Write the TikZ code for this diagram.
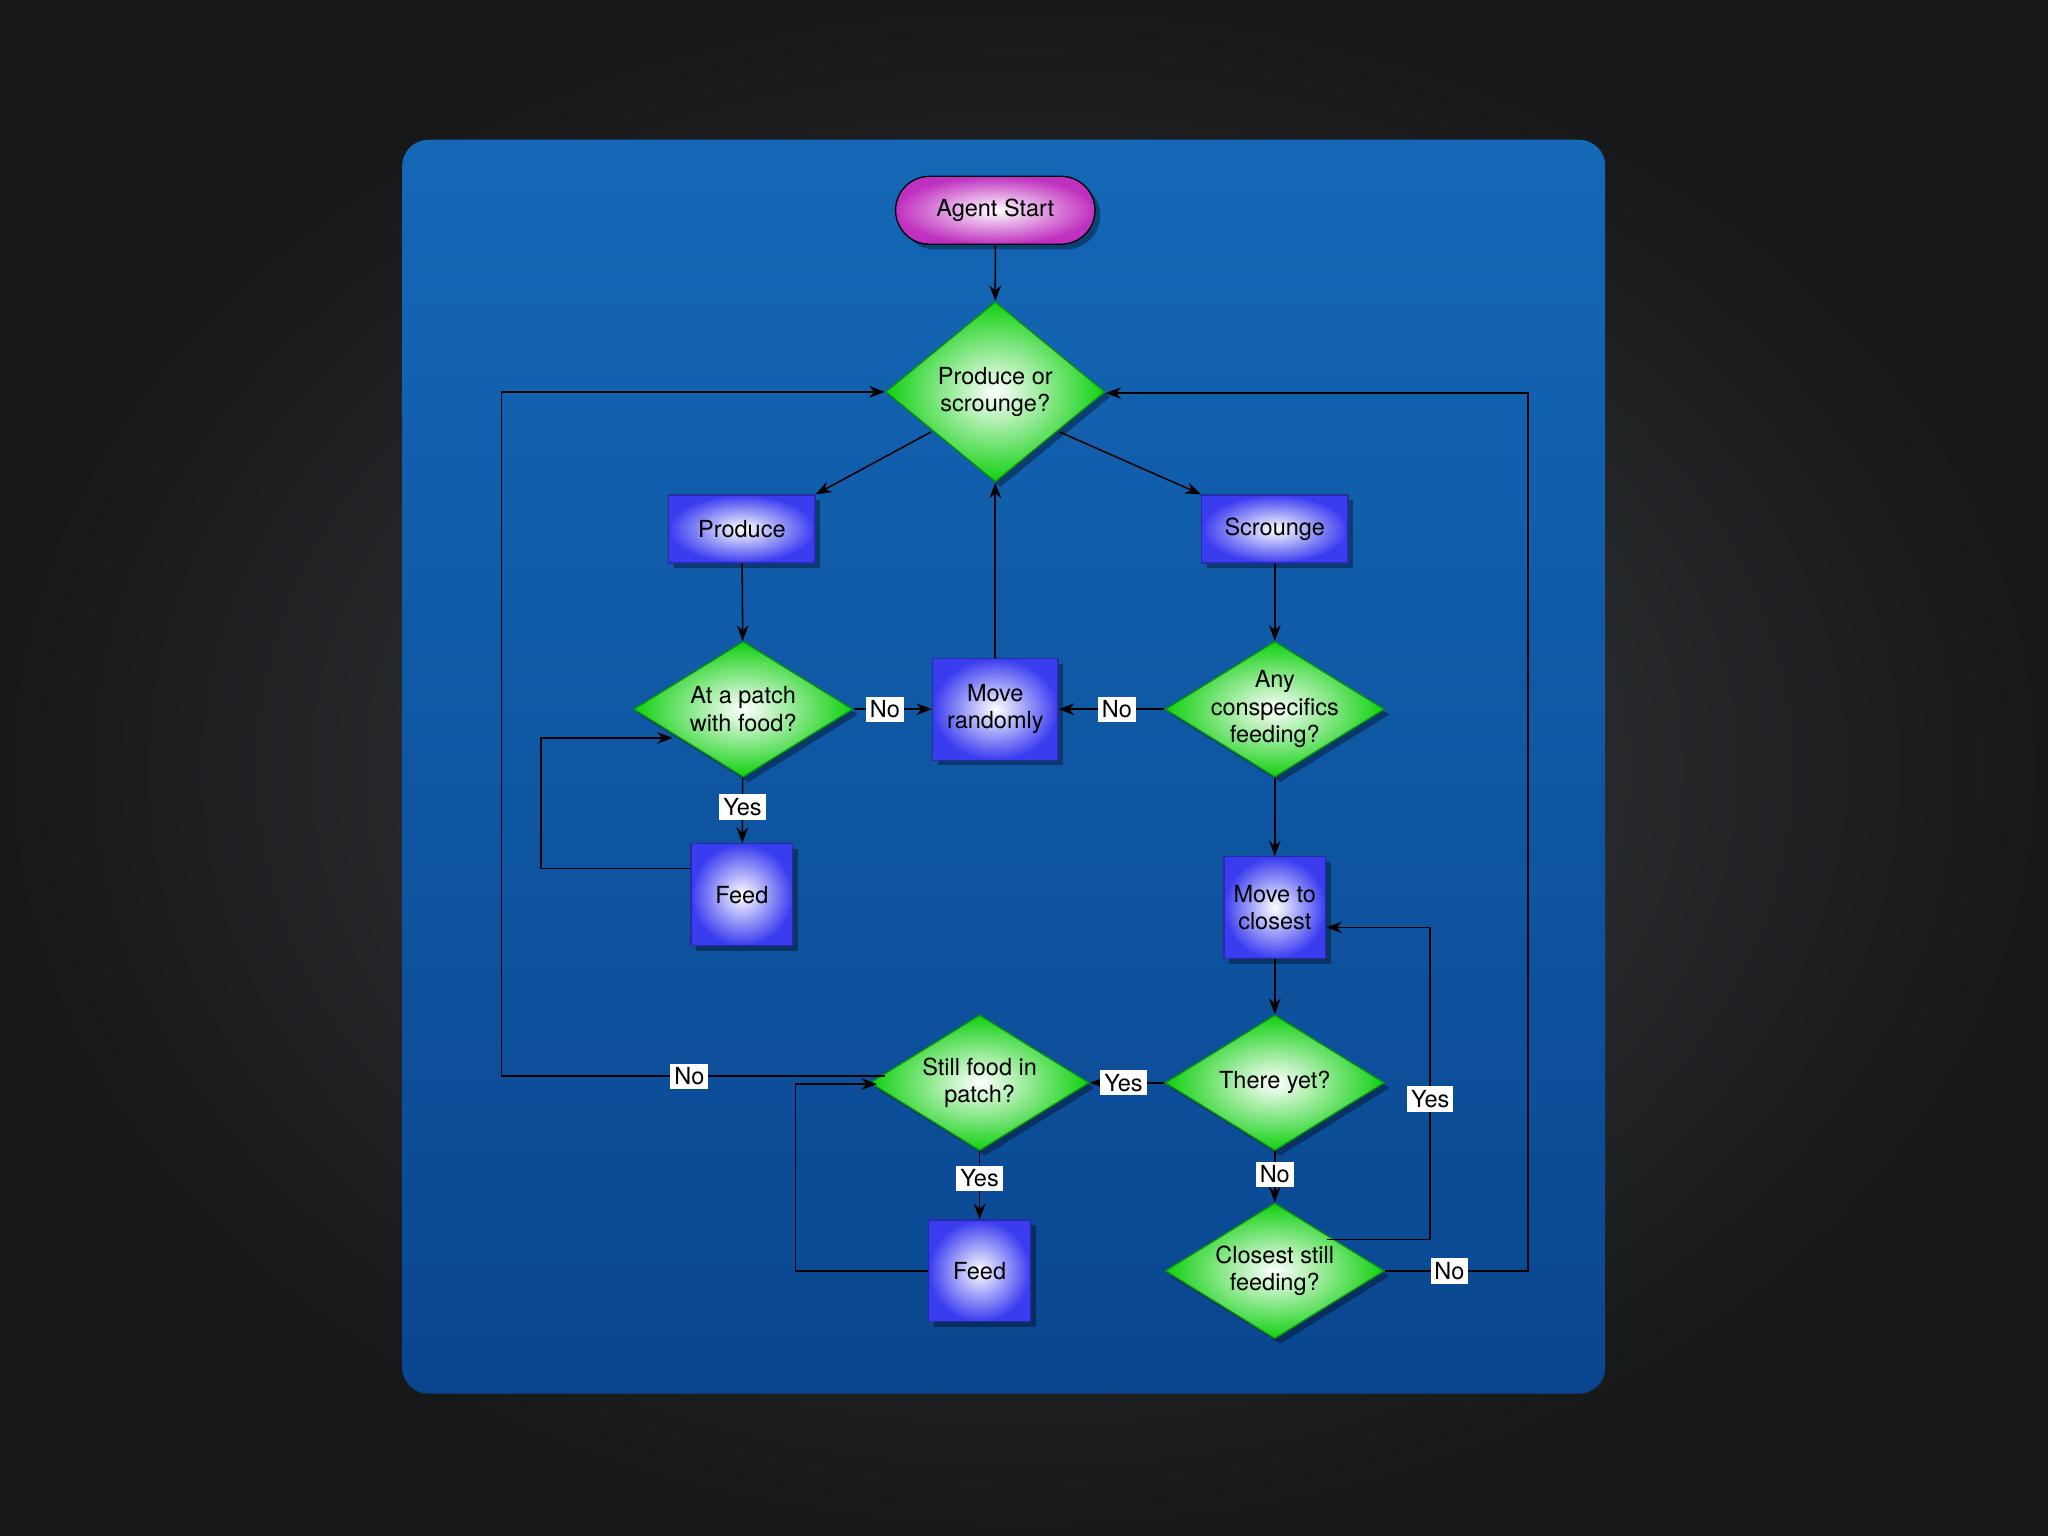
\documentclass[tikz,border=0pt]{standalone}
\usepackage{fontspec}
\setmainfont{TeX Gyre Heros}
\usetikzlibrary{shapes.geometric,shapes.misc,shadows,arrows.meta}
\definecolor{bgdark}{HTML}{16181A}
\definecolor{bglight}{HTML}{3C3F42}
\definecolor{paneltop}{HTML}{1468B6}
\definecolor{panelbot}{HTML}{0A4690}
\definecolor{boxblue}{HTML}{3A3CF0}
\definecolor{diagreen}{HTML}{10D010}
\definecolor{pillpurple}{HTML}{C030C0}
\tikzset{
  base/.style={draw, line width=0.5pt, drop shadow={black, opacity=0.35,shadow xshift=2pt,shadow yshift=-2pt}},
  box/.style={base, rectangle, draw=boxblue!70!black, shading=radial, inner color=white, outer color=boxblue, inner sep=0pt, font=\fontsize{9}{10.5}\selectfont, align=center},
  dia/.style={base, diamond, draw=diagreen!70!black, shading=radial, inner color=white, outer color=diagreen, inner sep=0pt, minimum width=84pt, minimum height=52pt},
  pill/.style={base, rounded rectangle, draw=black, shading=radial, inner color=white, outer color=pillpurple, minimum width=83pt, minimum height=26pt, font=\fontsize{9}{10.5}\selectfont},
  txt/.style={font=\fontsize{9}{10.5}\selectfont, align=center, inner sep=0pt},
  lab/.style={fill=white, inner sep=1.5pt, font=\fontsize{9}{10.5}\selectfont},
  conn/.style={line width=0.6pt, -{Stealth[length=6pt,width=4.5pt]}},
}
\begin{document}
\begin{tikzpicture}[x=0.5pt,y=-0.5pt]
  % background
  \path[shading=radial, inner color=bglight, outer color=bgdark] (0,0) rectangle (1568,1176);
  \useasboundingbox (0,0) rectangle (1568,1176);
  \path[top color=paneltop, bottom color=panelbot, rounded corners=10pt] (308,107) rectangle (1229,1067);

  % nodes
  \node[pill] (start) at (762,161) {Agent Start};
  \node[dia, minimum height=69pt] (choose) at (762,300) {};
  \node[txt] at (choose) {Produce or\\scrounge?};
  \node[box, minimum width=56pt, minimum height=26pt] (produce) at (568,405) {Produce};
  \node[box, minimum width=56pt, minimum height=26pt] (scrounge) at (976,405) {Scrounge};
  \node[dia] (patch) at (569,543) {};
  \node[txt] at (patch) {At a patch\\with food?};
  \node[box, minimum width=48pt, minimum height=39pt] (move) at (762,543) {Move\\randomly};
  \node[dia] (consp) at (976,543) {};
  \node[txt] at (consp) {Any\\conspecifics\\feeding?};
  \node[box, minimum width=39pt, minimum height=39pt] (feedA) at (568,685) {Feed};
  \node[box, minimum width=39pt, minimum height=39pt] (closest) at (976,695) {Move to\\closest};
  \node[dia] (still) at (750,829) {};
  \node[txt] at (still) {Still food in\\patch?};
  \node[dia] (there) at (976,829) {};
  \node[txt] at (there) {There yet?};
  \node[box, minimum width=39pt, minimum height=39pt] (feedB) at (750,973) {Feed};
  \node[dia] (clfeed) at (976,973) {};
  \node[txt] at (clfeed) {Closest still\\feeding?};

  % corners
  \coordinate (c1) at (414,665);
  \coordinate (c2) at (414,565);
  \coordinate (c2e) at (515,565);
  \coordinate (c3) at (384,824);
  \coordinate (c4) at (384,300);
  \coordinate (c5) at (609,973);
  \coordinate (c6) at (609,830);
  \coordinate (c7) at (1095,949);
  \coordinate (c8) at (1095,710);
  \coordinate (c9) at (1170,973);
  \coordinate (c10) at (1170,301);

  % connectors
  \draw[conn] (start) -- (choose);
  \draw[conn] (choose.south west) ++(-7,-4) -- (produce.north east);
  \draw[conn] (choose.south east) ++(7,-4) -- (scrounge.north west);
  \draw[conn] (produce) -- (patch);
  \draw[conn] (scrounge) -- (consp);
  \draw[conn] (patch) -- node[lab, pos=0.4] {No} (move);
  \draw[conn] (consp) -- node[lab, pos=0.45] {No} (move);
  \draw[conn] (move) -- (choose);
  \draw[conn] (patch) -- node[lab, pos=0.45] {Yes} (feedA);
  \draw[conn] (feedA.west |- c1) -- (c1) -- (c2) -- (c2e);
  \draw[conn] (consp) -- (closest);
  \draw[conn] (closest) -- (there);
  \draw[conn] (there) -- node[lab, pos=0.55] {Yes} (still);
  \draw[conn] (still.west |- c3) ++(12,0) -- node[lab, pos=0.51] {No} (c3) -- (c4) -- (choose.west |- c4);
  \draw[conn] (still) -- node[lab, pos=0.4] {Yes} (feedB);
  \draw[conn] (feedB.west) -- (c5) -- (c6) -- ([xshift=3pt]still.west |- c6);
  \draw[conn] (there) -- node[lab, pos=0.45] {No} (clfeed);
  \draw[conn] ([xshift=20pt,yshift=12pt]clfeed.center) -- (c7) -- node[lab, pos=0.45] {Yes} (c8) -- (closest.east |- c8);
  \draw[conn] (clfeed.east) -- node[lab, pos=0.45] {No} (c9) -- (c10) -- (choose.east |- c10);
\end{tikzpicture}
\end{document}
